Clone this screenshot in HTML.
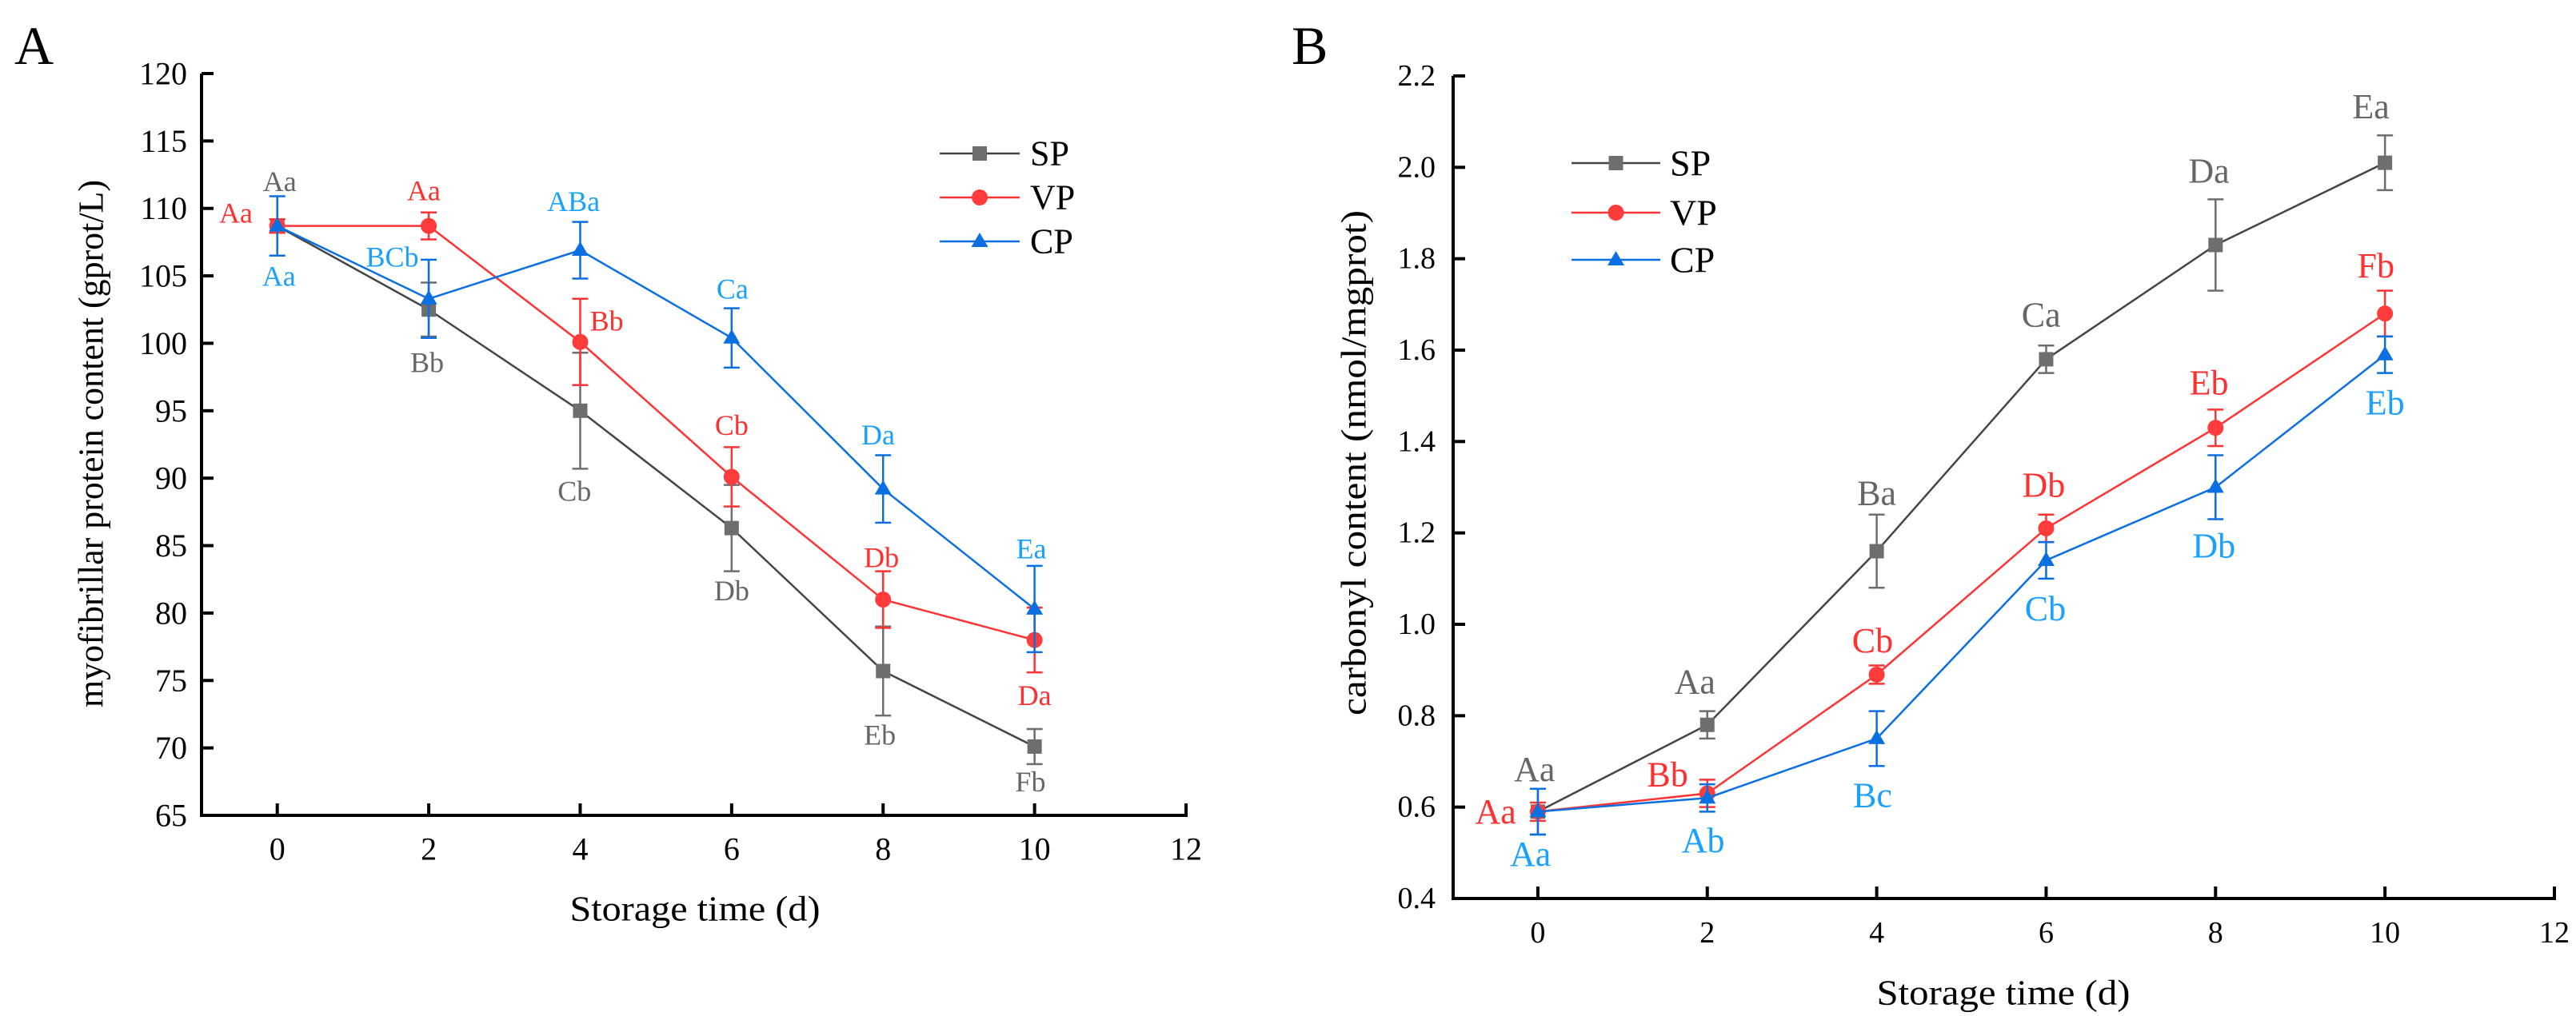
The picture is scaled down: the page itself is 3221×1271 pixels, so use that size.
<!DOCTYPE html>
<html><head><meta charset="utf-8"><style>
html,body{margin:0;padding:0;background:#fff;overflow:hidden}
svg{display:block}
text{font-family:"Liberation Serif",serif}
</style></head><body>
<svg id="svg" width="3221" height="1271" viewBox="0 0 3221 1271" xmlns="http://www.w3.org/2000/svg"></svg>
<script>
// ---- Chart A data ----
const daysA = [0,2,4,6,8,10];
const spA = [108.7,102.5,95.0,86.3,75.7,70.1];
const spAErr = [0.5,2.0,4.3,3.2,3.3,1.3];
const vpA = [108.7,108.7,100.1,90.1,81.0,78.0];
const vpAErr = [0.5,1.0,3.2,2.2,2.1,2.4];
const cpA = [108.7,103.3,106.9,100.4,89.2,80.3];
const cpAErr = [2.2,2.9,2.1,2.2,2.5,3.2];
const spALabels = ["Aa","Bb","Cb","Db","Eb","Fb"];
const vpALabels = ["Aa","Aa","Bb","Cb","Db","Da"];
const cpALabels = ["Aa","BCb","ABa","Ca","Da","Ea"];
const yTicksA = [65,70,75,80,85,90,95,100,105,110,115,120];
const xTicks = [0,2,4,6,8,10,12];
// ---- Chart B data ----
const daysB = [0,2,4,6,8,10];
const spB = [0.59,0.78,1.16,1.58,1.83,2.01];
const spBErr = [0.05,0.03,0.08,0.03,0.10,0.06];
const vpB = [0.59,0.63,0.89,1.21,1.43,1.68];
const vpBErr = [0.02,0.03,0.02,0.03,0.04,0.05];
const cpB = [0.59,0.62,0.75,1.14,1.30,1.59];
const cpBErr = [0.05,0.03,0.06,0.04,0.07,0.04];
const spBLabels = ["Aa","Aa","Ba","Ca","Da","Ea"];
const vpBLabels = ["Aa","Bb","Cb","Db","Eb","Fb"];
const cpBLabels = ["Aa","Ab","Bc","Cb","Db","Eb"];
const yTicksB = [0.4,0.6,0.8,1.0,1.2,1.4,1.6,1.8,2.0,2.2];

const NS="http://www.w3.org/2000/svg";
const svg=document.getElementById('svg');
function mk(tag,attrs,parent){const e=document.createElementNS(NS,tag);for(const k in attrs)e.setAttribute(k,attrs[k]);(parent||svg).appendChild(e);return e;}

// label offsets (px, measured) – positioning only
const offA={sp:[[3,-68],[-2,81],[-7,123],[0,96],[-4,98],[-5,54]],vp:[[-50,-20],[-6,-54],[32,-32],[0,-79],[-2,-64],[0,85]],cp:[[2,77],[-44,-64],[-8,-75],[1,-75],[-6,-83],[-4,-92]]};
const offB={sp:[[-4,-65],[-15,-66],[0,-89],[-6,-68],[-8,-113],[-17,-86]],vp:[[-51,0],[-48,-29],[-5,-52],[-3,-66],[-8,-69],[-11,-73]],cp:[[-9,65],[-5,65],[-5,87],[-1,74],[-2,90],[0,74]]};
const SX=1.035, SY=0.817;

const colors={sp:{line:'#454545',mark:'#6e6e6e',bar:'#6e6e6e',lab:'#666666'},vp:{line:'#ff3333',mark:'#ff3b3b',bar:'#ff3333',lab:'#ff3030'},cp:{line:'#0a6fe0',mark:'#0a6fe0',bar:'#0a6fe0',lab:'#1aa0ff'}};

function chart(cfg){
  const g=mk('g',{});
  
  
  const X=v=>cfg.x0+(v-cfg.xmin)/(cfg.xmax-cfg.xmin)*(cfg.x1-cfg.x0);
  const Y=v=>cfg.y0-(v-cfg.ymin)/(cfg.ymax-cfg.ymin)*(cfg.y0-cfg.y1);
  const ax=mk('path',{d:`M${cfg.x0},${cfg.y1} L${cfg.x0},${cfg.y0} L${cfg.x1},${cfg.y0} L${cfg.x1},${cfg.y0-15}`,fill:'none',stroke:'#000','stroke-width':4},g);
  
  
  cfg.yTicks.forEach(t=>{
    mk('line',{x1:cfg.x0,x2:cfg.x0+15,y1:Y(t),y2:Y(t),stroke:'#000','stroke-width':4},g);
    const tx=mk('text',{x:cfg.x0-cfg.ylabGap,y:Y(t),'text-anchor':'end','dominant-baseline':'central','font-size':cfg.tickFs},g);
    tx.textContent=cfg.yFmt(t);
    
    
  });
  cfg.xTicks.forEach(t=>{
    mk('line',{x1:X(t),x2:X(t),y1:cfg.y0,y2:cfg.y0-15,stroke:'#000','stroke-width':4},g);
    const tx=mk('text',{x:X(t),y:cfg.xlabY,'text-anchor':'middle','dominant-baseline':'central','font-size':cfg.tickFs},g);
    tx.textContent=t;
    
    
  });
  const xt=mk('text',{x:cfg.xTitle[0],y:cfg.xTitle[1],'text-anchor':'middle','dominant-baseline':'central','font-size':cfg.titleFs,textLength:cfg.xTitleLen,lengthAdjust:'spacingAndGlyphs'},g);
  xt.textContent='Storage time (d)';
  
  
  const yt=mk('text',{x:0,y:0,'text-anchor':'middle','dominant-baseline':'central','font-size':cfg.titleFs,textLength:cfg.yTitleLen,lengthAdjust:'spacingAndGlyphs',transform:`translate(${cfg.yTitle[0]},${cfg.yTitle[1]}) rotate(-90)`},g);
  yt.textContent=cfg.yTitleText;
  
  
  const pl=mk('text',{x:cfg.panel[0],y:cfg.panel[1],'font-size':68},g);
  pl.textContent=cfg.panelText;
  
  

  function marker(kind,cx,cy,parent){
    if(kind==='sp') return mk('rect',{x:cx-9,y:cy-9,width:18,height:18,fill:colors.sp.mark},parent);
    if(kind==='vp') return mk('circle',{cx:cx,cy:cy,r:10,fill:colors.vp.mark},parent);
    return mk('path',{d:`M${cx},${cy-11} L${cx+10.5},${cy+7} L${cx-10.5},${cy+7} Z`,fill:colors.cp.mark},parent);
  }
  cfg.series.forEach(se=>{
    const sg=mk('g',{},g);
    
    
    const c=colors[se.key];
    const pts=cfg.days.map((d,i)=>`${X(d)},${Y(se.vals[i])}`).join(' ');
    mk('polyline',{points:pts,fill:'none',stroke:c.line,'stroke-width':2.5},sg);
    cfg.days.forEach((d,i)=>{
      const cx=X(d),lo=Y(se.vals[i]-se.err[i]),hi=Y(se.vals[i]+se.err[i]);
      const eb=mk('path',{d:`M${cx},${lo} L${cx},${hi} M${cx-10},${lo} L${cx+10},${lo} M${cx-10},${hi} L${cx+10},${hi}`,stroke:c.bar,'stroke-width':2.5,fill:'none'},sg);
      
      
      const m=marker(se.key,cx,Y(se.vals[i]),sg);
      
      
      const o=se.off[i];
      const lt=mk('text',{x:cx+o[0]*SX,y:Y(se.vals[i])+o[1]*SY,'text-anchor':'middle','dominant-baseline':'central','font-size':cfg.labFs,fill:c.lab},sg);
      lt.textContent=se.labels[i];
      
      
    });
  });
  ['sp','vp','cp'].forEach((k,i)=>{
    const lg=mk('g',{},g);
    
    
    const y=cfg.legend.y[i];
    mk('line',{x1:cfg.legend.x0,x2:cfg.legend.x1,y1:y,y2:y,stroke:colors[k].line,'stroke-width':2.5},lg);
    marker(k,(cfg.legend.x0+cfg.legend.x1)/2,y,lg);
    const t=mk('text',{x:cfg.legend.tx,y:y,'dominant-baseline':'central','font-size':cfg.legFs},lg);
    t.textContent=k.toUpperCase();
  });
}

chart({name:'chart-a',x0:252,x1:1483,y0:1020,y1:92,xmin:-1,xmax:12,ymin:65,ymax:120,
  yTicks:yTicksA,xTicks:xTicks,yFmt:t=>String(t),ylabGap:18,xlabY:1062,tickFs:40,titleFs:44,labFs:36,legFs:44,
  xTitle:[869,1137],xTitleLen:313,yTitle:[114,555],yTitleLen:660,yTitleText:'myofibrillar protein content (gprot/L)',panel:[18,80],panelText:'A',
  days:daysA,legend:{x0:1175,x1:1275,tx:1288,y:[192,247,302]},
  series:[{key:'sp',vals:spA,err:spAErr,labels:spALabels,off:offA.sp},{key:'vp',vals:vpA,err:vpAErr,labels:vpALabels,off:offA.vp},{key:'cp',vals:cpA,err:cpAErr,labels:cpALabels,off:offA.cp}]});

chart({name:'chart-b',x0:1817,x1:3194,y0:1124,y1:95,xmin:-1,xmax:12,ymin:0.4,ymax:2.2,
  yTicks:yTicksB,xTicks:xTicks,yFmt:t=>t.toFixed(1),ylabGap:22,xlabY:1167,tickFs:38,titleFs:44,labFs:44,legFs:46,
  xTitle:[2505,1242],xTitleLen:317,yTitle:[1693,579],yTitleLen:632,yTitleText:'carbonyl content (nmol/mgprot)',panel:[1615,80],panelText:'B',
  days:daysB,legend:{x0:1965,x1:2076,tx:2088,y:[204,266,325]},
  series:[{key:'sp',vals:spB,err:spBErr,labels:spBLabels,off:offB.sp},{key:'vp',vals:vpB,err:vpBErr,labels:vpBLabels,off:offB.vp},{key:'cp',vals:cpB,err:cpBErr,labels:cpBLabels,off:offB.cp}]});
</script>
</body></html>
